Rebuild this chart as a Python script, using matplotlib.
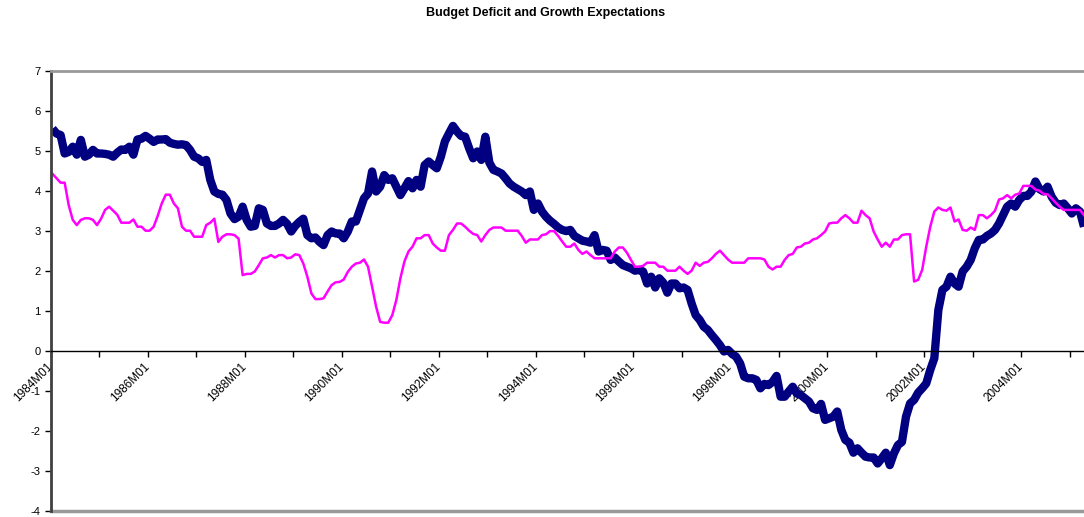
"""Budget deficit vs. growth expectations, monthly 1984M01-2005M04."""

import numpy as np
import matplotlib

matplotlib.use("Agg")
import matplotlib.pyplot as plt

plt.rcParams["font.family"] = ["Liberation Sans", "DejaVu Sans"]
plt.rcParams["axes.unicode_minus"] = False

title = "Budget Deficit and Growth Expectations"

# monthly values, first observation 1984M01
budget_deficit = [
    5.55, 5.43, 5.39, 4.93, 4.97, 5.10, 4.90, 5.27, 4.85, 4.90, 5.02, 4.93,
    4.93, 4.92, 4.90, 4.85, 4.95, 5.03, 5.02, 5.10, 4.90, 5.28, 5.30, 5.37,
    5.30, 5.22, 5.28, 5.28, 5.29, 5.20, 5.17, 5.15, 5.16, 5.14, 5.02, 4.85,
    4.81, 4.72, 4.77, 4.27, 3.98, 3.92, 3.90, 3.77, 3.43, 3.29, 3.35, 3.60,
    3.27, 3.10, 3.12, 3.56, 3.52, 3.18, 3.12, 3.12, 3.18, 3.27, 3.17, 2.98,
    3.12, 3.22, 3.30, 2.89, 2.81, 2.83, 2.72, 2.64, 2.89, 2.98, 2.93, 2.93,
    2.81, 2.98, 3.23, 3.23, 3.52, 3.81, 3.93, 4.48, 3.98, 4.10, 4.39, 4.27,
    4.31, 4.10, 3.89, 4.06, 4.24, 4.06, 4.27, 4.10, 4.64, 4.73, 4.64, 4.56,
    4.85, 5.23, 5.43, 5.62, 5.48, 5.37, 5.35, 5.06, 4.81, 4.98, 4.77, 5.35,
    4.70, 4.52, 4.48, 4.43, 4.31, 4.18, 4.10, 4.04, 3.98, 3.89, 3.98, 3.52,
    3.68, 3.48, 3.35, 3.25, 3.17, 3.08, 3.02, 2.99, 3.02, 2.87, 2.81, 2.75,
    2.73, 2.70, 2.89, 2.48, 2.52, 2.50, 2.27, 2.33, 2.23, 2.14, 2.10, 2.06,
    2.00, 2.02, 1.98, 1.68, 1.85, 1.58, 1.81, 1.70, 1.45, 1.68, 1.68, 1.56,
    1.58, 1.52, 1.18, 0.89, 0.77, 0.60, 0.52, 0.39, 0.27, 0.14, -0.02, 0.02,
    -0.08, -0.15, -0.32, -0.65, -0.69, -0.69, -0.73, -0.94, -0.83, -0.86, -0.78, -0.63,
    -1.15, -1.15, -1.02, -0.90, -1.07, -1.11, -1.19, -1.27, -1.44, -1.48, -1.33, -1.73,
    -1.69, -1.65, -1.52, -1.98, -2.23, -2.30, -2.55, -2.44, -2.55, -2.65, -2.67, -2.67,
    -2.82, -2.69, -2.55, -2.86, -2.57, -2.36, -2.28, -1.65, -1.32, -1.23, -1.05, -0.94,
    -0.82, -0.48, -0.19, 1.02, 1.52, 1.60, 1.85, 1.68, 1.60, 1.98, 2.10, 2.27,
    2.56, 2.77, 2.78, 2.87, 2.93, 3.02, 3.18, 3.39, 3.60, 3.68, 3.60, 3.77,
    3.87, 3.87, 3.98, 4.23, 4.04, 3.98, 4.10, 3.85, 3.70, 3.64, 3.68, 3.56,
    3.43, 3.56, 3.48, 3.10,
]

growth_expectations = [
    4.42, 4.31, 4.20, 4.20, 3.64, 3.27, 3.14, 3.27, 3.31, 3.31, 3.27, 3.14,
    3.30, 3.52, 3.60, 3.50, 3.40, 3.20, 3.20, 3.20, 3.28, 3.10, 3.10, 3.00,
    3.00, 3.10, 3.37, 3.68, 3.90, 3.90, 3.68, 3.56, 3.10, 3.00, 3.00, 2.85,
    2.85, 2.85, 3.14, 3.20, 3.30, 2.72, 2.85, 2.91, 2.91, 2.89, 2.80, 1.89,
    1.92, 1.92, 1.98, 2.14, 2.31, 2.33, 2.39, 2.33, 2.39, 2.39, 2.31, 2.33,
    2.41, 2.39, 2.18, 1.85, 1.43, 1.29, 1.29, 1.31, 1.48, 1.64, 1.71, 1.72,
    1.78, 1.97, 2.10, 2.18, 2.20, 2.28, 2.10, 1.60, 1.10, 0.72, 0.70, 0.70,
    0.89, 1.27, 1.81, 2.23, 2.48, 2.60, 2.81, 2.81, 2.89, 2.89, 2.68, 2.58,
    2.50, 2.50, 2.89, 3.02, 3.18, 3.18, 3.10, 3.00, 2.92, 2.89, 2.73, 2.89,
    3.02, 3.08, 3.08, 3.08, 3.00, 3.00, 3.00, 3.00, 2.87, 2.70, 2.78, 2.78,
    2.78, 2.89, 2.91, 2.99, 2.99, 2.87, 2.73, 2.60, 2.60, 2.68, 2.52, 2.42,
    2.48, 2.39, 2.31, 2.31, 2.31, 2.31, 2.31, 2.48, 2.58, 2.58, 2.45, 2.27,
    2.10, 2.10, 2.12, 2.20, 2.20, 2.20, 2.10, 2.10, 2.00, 2.00, 2.00, 2.10,
    2.00, 1.92, 2.00, 2.20, 2.12, 2.20, 2.22, 2.31, 2.42, 2.50, 2.39, 2.28,
    2.20, 2.20, 2.20, 2.20, 2.31, 2.31, 2.31, 2.31, 2.28, 2.10, 2.03, 2.10,
    2.10, 2.27, 2.39, 2.42, 2.58, 2.60, 2.68, 2.70, 2.78, 2.81, 2.89, 2.98,
    3.18, 3.20, 3.20, 3.31, 3.39, 3.31, 3.20, 3.20, 3.50, 3.39, 3.31, 2.98,
    2.78, 2.60, 2.70, 2.60, 2.78, 2.78, 2.89, 2.91, 2.91, 1.73, 1.77, 2.02,
    2.60, 3.10, 3.48, 3.58, 3.52, 3.50, 3.58, 3.23, 3.28, 3.02, 3.00, 3.08,
    3.02, 3.39, 3.39, 3.31, 3.39, 3.50, 3.78, 3.81, 3.89, 3.81, 3.90, 3.93,
    4.12, 4.12, 4.12, 4.03, 4.00, 3.92, 3.91, 3.81, 3.70, 3.60, 3.52, 3.52,
    3.52, 3.52, 3.52, 3.39,
]

# one tick mark per year, a label every second year
tick_labels = [
    "1984M01", "", "1986M01", "", "1988M01", "", "1990M01", "", "1992M01", "",
    "1994M01", "", "1996M01", "", "1998M01", "", "2000M01", "", "2002M01", "",
    "2004M01", "",
]

W, H = 1084, 517
fig = plt.figure(figsize=(W / 100, H / 100), dpi=100)
ax = fig.add_axes([50.5 / W, 6.3 / H, 1035.5 / W, 440 / H])

n = len(budget_deficit)
x = np.arange(n) + 0.5  # Excel style: points sit between tick marks

ax.plot(x, budget_deficit, color="#000080", linewidth=6.0,
        solid_joinstyle="round", solid_capstyle="butt")
ax.plot(x, growth_expectations, color="#FF00FF", linewidth=1.8)

ax.set_xlim(0, n)
ax.set_ylim(-4, 7)

# category axis crosses at zero, plot frame in grey
ax.spines["bottom"].set_position(("data", 0))
ax.spines["bottom"].set_color("black")
ax.spines["bottom"].set_linewidth(1.0)
ax.spines["top"].set_color("#999999")
ax.spines["top"].set_linewidth(2.0)
ax.spines["left"].set_color("#404040")
ax.spines["left"].set_linewidth(2.0)
ax.spines["right"].set_visible(False)
ax.axhline(-4, color="#999999", linewidth=2.5, clip_on=False)

ax.set_xticks(np.arange(len(tick_labels)) * 12)
ax.set_xticklabels(tick_labels, rotation=45, ha="right", va="center",
                   rotation_mode="anchor", fontsize=8.5)
ax.tick_params(axis="x", direction="out", length=4, width=1, pad=6)

ax.set_yticks(np.arange(-4, 8))
ax.tick_params(axis="y", direction="out", length=4, width=1, pad=3,
               labelsize=8)

fig.text(546 / W, 1 - 13 / H, title, ha="center", va="center",
         fontsize=9, fontweight="bold")

fig.savefig("out.png", dpi=100)
